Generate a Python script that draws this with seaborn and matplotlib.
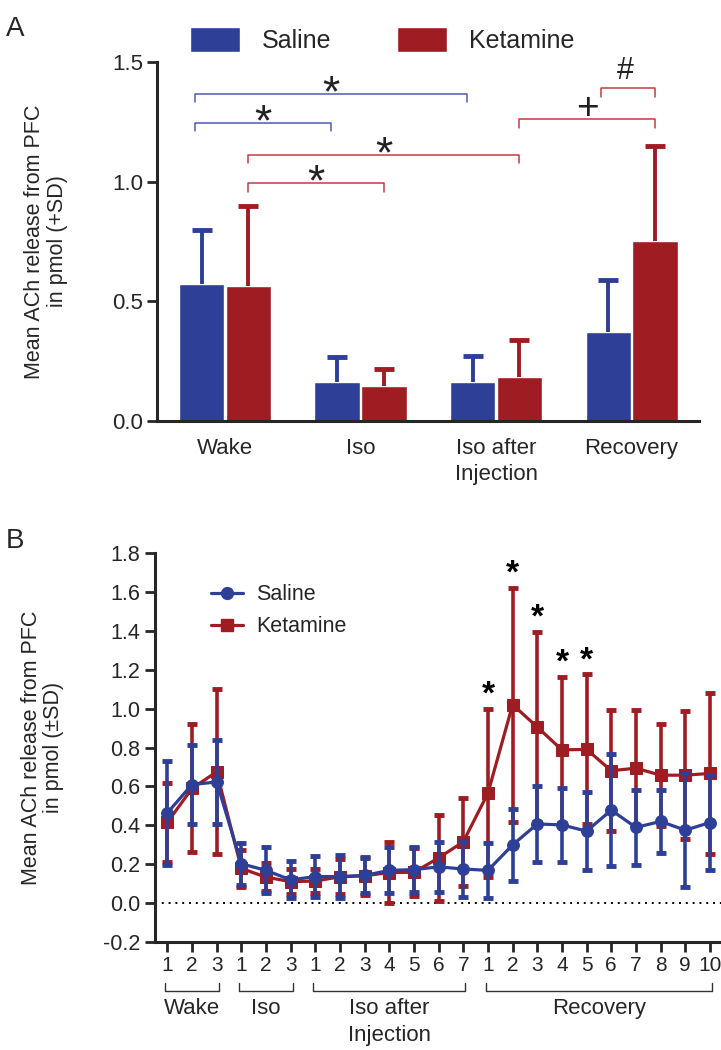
import numpy as np
import pandas as pd
import matplotlib
matplotlib.use("Agg")
import matplotlib.pyplot as plt
import matplotlib.transforms as mtransforms
from matplotlib.lines import Line2D
from matplotlib.patches import Patch
import seaborn as sns

sns.set_style("ticks")
plt.rcParams["font.family"] = ["Liberation Sans", "DejaVu Sans"]

BLUE = "#2d3f97"
RED = "#9f1c22"
BLUE_L = "#4a5db3"
RED_L = "#c23a40"

# ---- panel A data: mean (+SD) per phase
phases = ["Wake", "Iso", "Iso after\nInjection", "Recovery"]
saline_mean = [0.573, 0.165, 0.165, 0.374]
saline_sd = [0.227, 0.104, 0.105, 0.215]
ket_mean = [0.564, 0.145, 0.184, 0.753]
ket_sd = [0.336, 0.072, 0.154, 0.397]

# significance brackets: (phase_i, phase_j, series, height, symbol)
brackets_a = [
    (0, 2, "Saline", 1.368, "*"),
    (0, 1, "Saline", 1.247, "*"),
    (0, 2, "Ketamine", 1.112, "*"),
    (0, 1, "Ketamine", 0.993, "*"),
    (2, 3, "Ketamine", 1.260, "+"),
]

# ---- panel B data: per-sample time course (±SD)
sample_labels = ["1", "2", "3", "1", "2", "3", "1", "2", "3", "4", "5", "6", "7",
                 "1", "2", "3", "4", "5", "6", "7", "8", "9", "10"]
groups_b = [("Wake", 0, 2), ("Iso", 3, 5), ("Iso after\nInjection", 6, 12), ("Recovery", 13, 22)]
sal_b = [0.464, 0.610, 0.623, 0.202, 0.168, 0.119, 0.136, 0.136, 0.142, 0.168, 0.172, 0.186,
         0.175, 0.168, 0.299, 0.407, 0.402, 0.370, 0.478, 0.389, 0.420, 0.375, 0.414]
sal_b_sd = [0.266, 0.205, 0.215, 0.108, 0.119, 0.095, 0.105, 0.110, 0.092, 0.118, 0.115, 0.130,
            0.146, 0.140, 0.187, 0.197, 0.190, 0.202, 0.288, 0.192, 0.164, 0.292, 0.245]
ket_b = [0.415, 0.590, 0.675, 0.178, 0.133, 0.110, 0.113, 0.135, 0.140, 0.157, 0.158, 0.232,
         0.315, 0.566, 1.021, 0.906, 0.788, 0.791, 0.681, 0.694, 0.658, 0.658, 0.667]
ket_b_sd = [0.205, 0.330, 0.425, 0.097, 0.072, 0.063, 0.062, 0.090, 0.098, 0.155, 0.124, 0.222,
            0.228, 0.434, 0.602, 0.490, 0.378, 0.386, 0.310, 0.302, 0.262, 0.328, 0.413]
sig_b = [13, 14, 15, 16, 17]

fig = plt.figure(figsize=(7.21, 10.5), dpi=100)
axA = fig.add_axes([0.218, 0.599, 0.752, 0.342])
axB = fig.add_axes([0.215, 0.103, 0.785, 0.370])

# ================= panel A =================
dfA = pd.DataFrame({
    "phase": phases * 2,
    "treatment": ["Saline"] * 4 + ["Ketamine"] * 4,
    "value": saline_mean + ket_mean,
})
sns.barplot(data=dfA, x="phase", y="value", hue="treatment", order=phases,
            hue_order=["Saline", "Ketamine"], palette=[BLUE, RED], width=0.69,
            gap=0.03, errorbar=None, legend=False, saturation=1, ax=axA)

bar_x = {"Saline": [], "Ketamine": []}
for i, p in enumerate(axA.patches[:8]):
    key = "Saline" if i < 4 else "Ketamine"
    bar_x[key].append(p.get_x() + p.get_width() / 2)

for key, m, sd, c in (("Saline", saline_mean, saline_sd, BLUE),
                      ("Ketamine", ket_mean, ket_sd, RED)):
    eb = axA.errorbar(bar_x[key], m, yerr=[np.zeros(4), sd], fmt="none", ecolor=c,
                      elinewidth=2.8, capsize=7, capthick=3.5, zorder=1)
    eb[1][0].set_visible(False)   # drop the cap sitting on the bar top

STAR_OFF = 0.107  # baseline below glyph centre, fontsize 32
for i, j, key, h, sym in brackets_a:
    c = BLUE_L if key == "Saline" else RED_L
    off = -0.045 if key == "Saline" else 0.0
    x0, x1 = bar_x[key][i] + off, bar_x[key][j] + off
    axA.plot([x0, x0, x1, x1], [h - 0.036, h, h, h - 0.036], color=c, lw=1.1,
             clip_on=False)
    if sym == "*":
        axA.text((x0 + x1) / 2, h + 0.055 - STAR_OFF, "*", ha="center",
                 va="baseline", fontsize=32, color="#222222")
    else:
        axA.text((x0 + x1) / 2, h + 0.06 - 0.057, "+", ha="center",
                 va="baseline", fontsize=28, color="#222222")
# Recovery saline vs ketamine
x0, x1 = bar_x["Saline"][3] - 0.05, bar_x["Ketamine"][3]
axA.plot([x0, x0, x1, x1], [1.355, 1.39, 1.39, 1.355], color=RED_L, lw=1.1,
         clip_on=False)
axA.text((x0 + x1) / 2 - 0.02, 1.43, "#", ha="center", va="baseline", fontsize=22,
         color="#222222")

axA.set_xlim(-0.5, 3.5)
axA.set_ylim(0, 1.5)
axA.set_yticks([0, 0.5, 1.0, 1.5])
axA.set_yticklabels(["0.0", "0.5", "1.0", "1.5"], fontsize=16)
axA.set_xticks(range(4))
axA.set_xticklabels(phases, fontsize=16, linespacing=1.35)
axA.tick_params(axis="x", length=0, pad=12)
axA.tick_params(axis="y", length=7, width=2, pad=3)
axA.set_xlabel("")
axA.set_ylabel("Mean ACh release from PFC\nin pmol (+SD)", fontsize=15.5, linespacing=1.1)
axA.yaxis.set_label_coords(-0.165, 0.5)
sns.despine(ax=axA)
for s in ("left", "bottom"):
    axA.spines[s].set_linewidth(2.2)

fig.legend(handles=[Patch(facecolor=BLUE, label="Saline"),
                    Patch(facecolor=RED, label="Ketamine")],
           loc="center", bbox_to_anchor=(0.53, 0.962), ncol=2, frameon=False,
           fontsize=18, handlelength=2.0, handleheight=1.2, columnspacing=2.6,
           handletextpad=0.9)

# ================= panel B =================
pos = np.arange(len(sample_labels))
dfK = pd.DataFrame({"pos": pos, "value": ket_b})
dfS = pd.DataFrame({"pos": pos, "value": sal_b})

axB.errorbar(pos, ket_b, yerr=ket_b_sd, fmt="none", ecolor=RED, elinewidth=2.6,
             capsize=3.8, capthick=3.5, zorder=2)
sns.lineplot(data=dfK, x="pos", y="value", color=RED, marker="s", markersize=8.5,
             markeredgecolor=RED, lw=2.3, zorder=3, ax=axB)
axB.errorbar(pos, sal_b, yerr=sal_b_sd, fmt="none", ecolor=BLUE, elinewidth=2.6,
             capsize=3.8, capthick=3.5, zorder=4)
sns.lineplot(data=dfS, x="pos", y="value", color=BLUE, marker="o", markersize=8.5,
             markeredgecolor=BLUE, lw=2.3, zorder=5, ax=axB)

axB.axhline(0, color="black", lw=1.4, ls=(0, (1, 2.5)), zorder=1)

for k in sig_b:
    axB.text(pos[k], ket_b[k] + ket_b_sd[k] + 0.027, "*", ha="center", va="baseline",
             fontsize=24, fontweight="bold", color="black")

axB.set_xlim(-0.5, 22.45)
axB.set_ylim(-0.2, 1.8)
yt = np.round(np.arange(-0.2, 1.81, 0.2), 1)
axB.set_yticks(yt)
axB.set_yticklabels([f"{v:.1f}" for v in yt], fontsize=15.5)
axB.set_xticks(pos)
axB.set_xticklabels(sample_labels, fontsize=15)
axB.tick_params(axis="both", length=7, width=2)
axB.tick_params(axis="x", pad=3)
axB.set_xlabel("")
axB.set_ylabel("Mean ACh release from PFC\nin pmol (\u00b1SD)", fontsize=15.5, linespacing=1.1)
axB.yaxis.set_label_coords(-0.16, 0.5)
sns.despine(ax=axB)
for s in ("left", "bottom"):
    axB.spines[s].set_linewidth(2.2)

trans = mtransforms.blended_transform_factory(axB.transData, axB.transAxes)
for name, a, b in groups_b:
    x0, x1 = a - 0.08, b + 0.08
    axB.plot([x0, x0, x1, x1], [-0.105, -0.127, -0.127, -0.105], color="#333333",
             lw=1.0, transform=trans, clip_on=False)
    axB.text((a + b) / 2, -0.145, name, ha="center", va="top",
             fontsize=16, linespacing=1.35, transform=trans)

axB.legend(handles=[Line2D([], [], color=BLUE, marker="o", markersize=8.5, lw=2.3),
                    Line2D([], [], color=RED, marker="s", markersize=8.5, lw=2.3)],
           labels=["Saline", "Ketamine"], loc="upper left",
           bbox_to_anchor=(0.065, 0.97), frameon=False, fontsize=15.5,
           handlelength=1.5, handletextpad=0.6, labelspacing=0.5)

fig.text(0.008, 0.985, "A", fontsize=20, va="top")
fig.text(0.008, 0.497, "B", fontsize=20, va="top")

fig.savefig("out.png", dpi=100)
